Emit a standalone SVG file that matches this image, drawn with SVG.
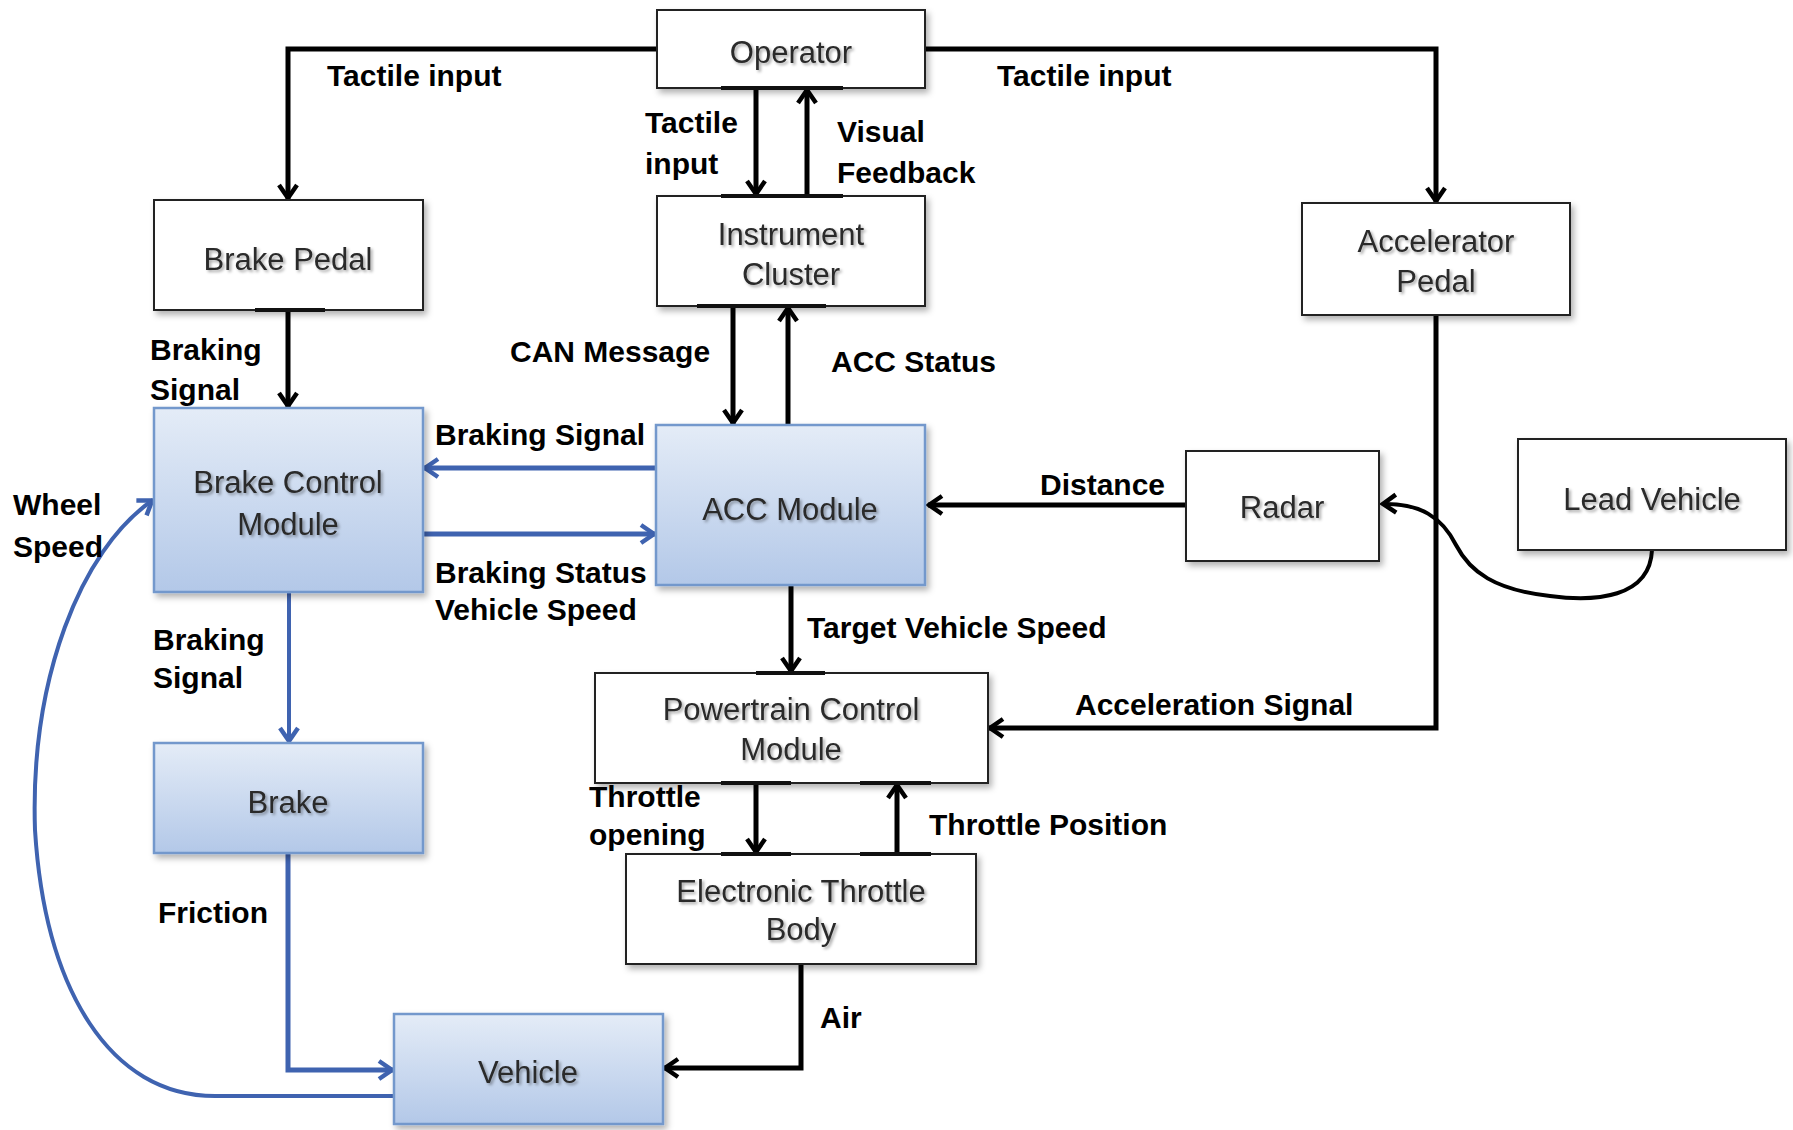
<svg xmlns="http://www.w3.org/2000/svg" width="1793" height="1130" viewBox="0 0 1793 1130">
<defs>
<linearGradient id="bg" x1="0" y1="0" x2="0" y2="1">
<stop offset="0" stop-color="#E4ECF7"/>
<stop offset="1" stop-color="#B3C8E8"/>
</linearGradient>
<filter id="sh" x="-10%" y="-10%" width="130%" height="140%">
<feDropShadow dx="3" dy="4" stdDeviation="3" flood-color="#000" flood-opacity="0.3"/>
</filter>
<filter id="tsh" x="-10%" y="-20%" width="130%" height="150%">
<feDropShadow dx="2" dy="2" stdDeviation="1.5" flood-color="#000" flood-opacity="0.35"/>
</filter>
<marker id="ab" markerUnits="userSpaceOnUse" markerWidth="30" markerHeight="30" viewBox="-20 -15 30 30" refX="1" refY="0" orient="auto">
<path d="M-13,-9 L0,0 L-13,9" fill="none" stroke="#000" stroke-width="4.5"/>
</marker>
<marker id="au" markerUnits="userSpaceOnUse" markerWidth="30" markerHeight="30" viewBox="-20 -15 30 30" refX="1" refY="0" orient="auto">
<path d="M-13,-9 L0,0 L-13,9" fill="none" stroke="#3F63B0" stroke-width="4.5"/>
</marker>
</defs>
<style>
.box{fill:#fff;stroke:#222;stroke-width:2;filter:url(#sh)}
.bbox{fill:url(#bg);stroke:#7398CC;stroke-width:2.5;filter:url(#sh)}
.nt{font-family:"Liberation Sans",Arial,sans-serif;font-size:31px;fill:#2a2a2a;text-anchor:middle;filter:url(#tsh)}
.lb{font-family:"Liberation Sans",Arial,sans-serif;font-size:30px;font-weight:bold;fill:#000}
.k{fill:none;stroke:#000;stroke-width:5;marker-end:url(#ab)}
.kn{fill:none;stroke:#000;stroke-width:5}
.u{fill:none;stroke:#3F63B0;stroke-width:5;marker-end:url(#au)}
.tick{stroke:#111;stroke-width:4}
</style>
<rect width="1793" height="1130" fill="#fff"/>

<g id="connectors">
<path class="k" d="M657,49 L288,49 L288,199"/>
<path class="k" d="M925,49 L1436,49 L1436,202"/>
<path class="k" d="M756,88 L756,195"/>
<path class="k" d="M807,196 L807,89"/>
<path class="k" d="M288,310 L288,407"/>
<path class="k" d="M733,306 L733,424"/>
<path class="k" d="M788,425 L788,307"/>
<path class="u" d="M656,468 L424,468"/>
<path class="u" d="M423,534 L655,534"/>
<path class="k" d="M1186,505 L928,505"/>
<path class="k" d="M1436,315 L1436,728 L989,728"/>
<path class="k" style="stroke-width:4" d="M1652,550 C1650,598 1595,602 1550,596 C1495,590 1470,572 1456,545 C1442,517 1420,503 1382,504"/>
<path class="k" d="M791,585 L791,672"/>
<path class="k" d="M756,783 L756,853"/>
<path class="k" d="M897,854 L897,784"/>
<path class="k" d="M801,964 L801,1068 L664,1068"/>
<path class="u" style="stroke-width:4" d="M289,592 L289,742"/>
<path class="u" d="M288,853 L288,1070 L393,1070"/>
<path class="u" style="stroke-width:4" d="M394,1096 L215,1096 C110,1096 45,990 35,830 C30,680 80,550 153,500"/>
</g>

<g id="operator"><rect class="box" x="657" y="10" width="268" height="78"/><line class="tick" x1="721" y1="88" x2="843" y2="88"/><text class="nt" x="791" y="63">Operator</text></g>
<g id="instrument-cluster"><rect class="box" x="657" y="196" width="268" height="110"/><line class="tick" x1="721" y1="196" x2="843" y2="196"/><line class="tick" x1="697" y1="306" x2="826" y2="306"/><text class="nt" x="791" y="245">Instrument</text><text class="nt" x="791" y="285">Cluster</text></g>
<g id="brake-pedal"><rect class="box" x="154" y="200" width="269" height="110"/><line class="tick" x1="255" y1="310" x2="325" y2="310"/><text class="nt" x="288" y="270">Brake Pedal</text></g>
<g id="accelerator-pedal"><rect class="box" x="1302" y="203" width="268" height="112"/><text class="nt" x="1436" y="252">Accelerator</text><text class="nt" x="1436" y="292">Pedal</text></g>
<g id="brake-control-module"><rect class="bbox" x="154" y="408" width="269" height="184"/><text class="nt" x="288" y="493">Brake Control</text><text class="nt" x="288" y="535">Module</text></g>
<g id="acc-module"><rect class="bbox" x="656" y="425" width="269" height="160"/><text class="nt" x="790" y="520">ACC Module</text></g>
<g id="radar"><rect class="box" x="1186" y="451" width="193" height="110"/><text class="nt" x="1282" y="518">Radar</text></g>
<g id="lead-vehicle"><rect class="box" x="1518" y="439" width="268" height="111"/><text class="nt" x="1652" y="510">Lead Vehicle</text></g>
<g id="powertrain-control-module"><rect class="box" x="595" y="673" width="393" height="110"/><line class="tick" x1="756" y1="673" x2="825" y2="673"/><line class="tick" x1="721" y1="783" x2="791" y2="783"/><line class="tick" x1="860" y1="783" x2="931" y2="783"/><text class="nt" x="791" y="720">Powertrain Control</text><text class="nt" x="791" y="760">Module</text></g>
<g id="brake"><rect class="bbox" x="154" y="743" width="269" height="110"/><text class="nt" x="288" y="813">Brake</text></g>
<g id="electronic-throttle-body"><rect class="box" x="626" y="854" width="350" height="110"/><line class="tick" x1="721" y1="854" x2="791" y2="854"/><line class="tick" x1="860" y1="854" x2="931" y2="854"/><text class="nt" x="801" y="902">Electronic Throttle</text><text class="nt" x="801" y="940">Body</text></g>
<g id="vehicle"><rect class="bbox" x="394" y="1014" width="269" height="110"/><text class="nt" x="528" y="1083">Vehicle</text></g>

<g id="labels">
<text class="lb" x="327" y="86">Tactile input</text>
<text class="lb" x="997" y="86">Tactile input</text>
<text class="lb" x="645" y="133">Tactile</text>
<text class="lb" x="645" y="174">input</text>
<text class="lb" x="837" y="142">Visual</text>
<text class="lb" x="837" y="183">Feedback</text>
<text class="lb" x="150" y="360">Braking</text>
<text class="lb" x="150" y="400">Signal</text>
<text class="lb" x="510" y="362">CAN Message</text>
<text class="lb" x="831" y="372">ACC Status</text>
<text class="lb" x="435" y="445">Braking Signal</text>
<text class="lb" x="1040" y="495">Distance</text>
<text class="lb" x="435" y="583">Braking Status</text>
<text class="lb" x="435" y="620">Vehicle Speed</text>
<text class="lb" x="13" y="515">Wheel</text>
<text class="lb" x="13" y="557">Speed</text>
<text class="lb" x="807" y="638">Target Vehicle Speed</text>
<text class="lb" x="153" y="650">Braking</text>
<text class="lb" x="153" y="688">Signal</text>
<text class="lb" x="1075" y="715">Acceleration Signal</text>
<text class="lb" x="589" y="807">Throttle</text>
<text class="lb" x="589" y="845">opening</text>
<text class="lb" x="929" y="835">Throttle Position</text>
<text class="lb" x="158" y="923">Friction</text>
<text class="lb" x="820" y="1028">Air</text>
</g>
</svg>
